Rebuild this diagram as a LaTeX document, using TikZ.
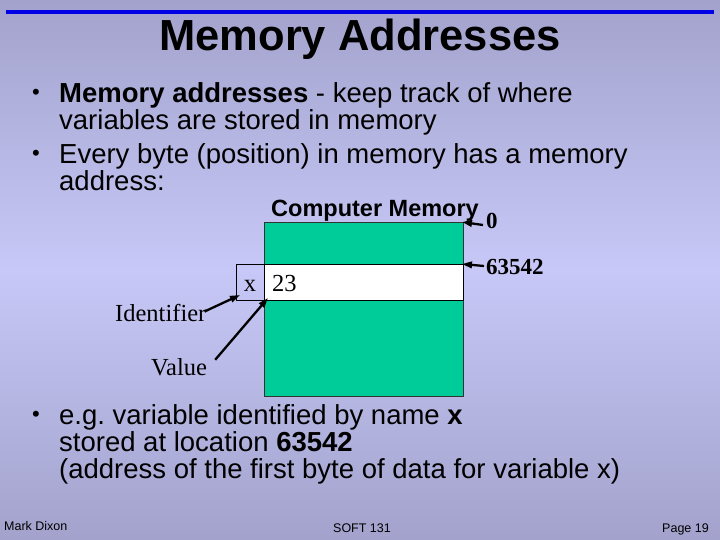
\documentclass[tikz,border=0pt]{standalone}
\usepackage{fontspec}
\setmainfont{Liberation Sans}
\newfontfamily\timesf{Liberation Serif}
\usetikzlibrary{arrows.meta}
\frenchspacing
\definecolor{bgtop}{RGB}{162,162,204}
\definecolor{bgmid}{RGB}{200,200,248}
\definecolor{memgreen}{RGB}{0,204,153}
\definecolor{ruleblue}{RGB}{0,0,230}
\tikzset{
  body/.style={anchor=base west, inner sep=0pt, font=\fontsize{27.5}{32}\selectfont},
  bul/.style={anchor=base west, inner sep=0pt, font=\fontsize{22}{26}\selectfont},
  serif/.style={inner sep=0pt, font=\timesf\fontsize{24.5}{28}\selectfont},
  serifbold/.style={inner sep=0pt, font=\timesf\bfseries\fontsize{23}{27}\selectfont},
  foot/.style={inner sep=0pt, font=\fontsize{12.5}{14}\selectfont},
  ptr/.style={line width=2.3pt, -{Triangle[length=10pt,width=6.5pt]}},
}
\begin{document}
\begin{tikzpicture}[x=1pt,y=-1pt]
\useasboundingbox (0,0) rectangle (720,540);
\shade[top color=bgtop, bottom color=bgtop, middle color=bgmid] (0,0) rectangle (720,540);
\draw[ruleblue, line width=4pt] (6,12) -- (714,12);
\node (title) [anchor=base, inner sep=0pt, font=\bfseries\fontsize{43.5}{50}\selectfont] at (360,51) {Memory Addresses};
% bullets
\node (b1) [bul] at (32,100) {•};
\node (l1) [body] at (59,103) {\textbf{Memory addresses} - keep track of where};
\node (l2) [body] at (59,130) {variables are stored in memory};
\node (b2) [bul] at (32,161) {•};
\node (l3) [body] at (59,164) {Every byte (position) in memory has a memory};
\node (l4) [body] at (59,191) {address:};
% memory diagram
\node (cm) [anchor=base, inner sep=0pt, font=\bfseries\fontsize{23.5}{27}\selectfont] at (375,217) {Computer Memory};
\draw[fill=memgreen, draw=black!80, line width=0.8pt] (264,222) rectangle (463,396);
\draw[fill=white, draw=black, line width=0.8pt] (264,264) rectangle (463,300);
\draw[draw=black, line width=0.8pt] (236,264) rectangle (264,300);
\node (xid) [serif, anchor=base] at (250,291) {x};
\node (val) [serif, anchor=base west] at (272,291) {23};
\node (zero) [serifbold, anchor=base west] at (486,229) {0};
\node (addr) [serifbold, anchor=base west] at (486,274) {63542};
\coordinate (topR) at (462,222);
\coordinate (bandR) at (462,264);
\coordinate (idTip) at (240,295);
\coordinate (valTip) at (268,298);
\draw[ptr] (483,225) -- (topR);
\draw[ptr] (484,266) -- (bandR);
\node (ident) [serif, anchor=base west] at (115,321) {Identifier};
\node (value) [serif, anchor=base west] at (151,375) {Value};
\draw[ptr] ([xshift=-2pt,yshift=1pt]ident.east) -- (idTip);
\draw[ptr] ([xshift=8pt,yshift=-2pt]value.north east) -- (valTip);
% bottom bullet
\node (b3) [bul] at (32,421) {•};
\node (l5) [body] at (59,424) {e.g. variable identified by name \textbf{x}};
\node (l6) [body] at (59,451) {stored at location \textbf{63542}};
\node (l7) [body] at (59,478) {(address of the first byte of data for variable x)};
% footer
\node (f1) [foot, anchor=base west] at (4,530) {Mark Dixon};
\node (f2) [foot, anchor=base] at (362,532) {SOFT 131};
\node (f3) [foot, anchor=base east] at (709,532) {Page 19};
\end{tikzpicture}
\end{document}
